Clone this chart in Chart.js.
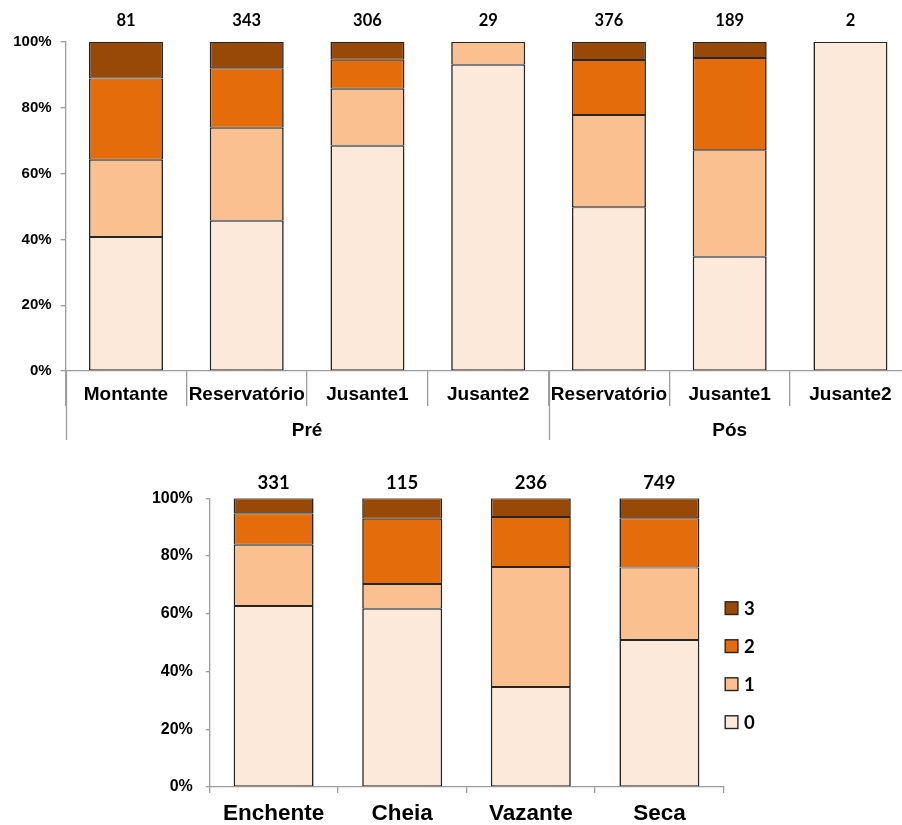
<!DOCTYPE html>
<html>
<head>
<meta charset="utf-8">
<script src="https://cdn.jsdelivr.net/npm/chart.js"></script>
<style>
  html, body { margin: 0; padding: 0; background: #fff; overflow: hidden; }
  #siteChart { position: absolute; left: 0; top: 0; }
  #seasonChart { position: absolute; left: 0; top: 450px; }
</style>
</head>
<body>
<canvas id="siteChart" width="920" height="450"></canvas>
<canvas id="seasonChart" width="902" height="375"></canvas>
<script>
// top chart: sites before / after the dam
const siteLabels = ['Montante', 'Reservatório', 'Jusante1', 'Jusante2', 'Reservatório', 'Jusante1', 'Jusante2'];
const periodLabels = ['Pré', 'Pós'];
const periodSizes = [4, 3];
const siteCounts = [81, 343, 306, 29, 376, 189, 2];
const siteScore0 = [40.7, 45.7, 68.5, 93.1, 49.8, 34.7, 100];
const siteScore1 = [23.5, 28.2, 17.3, 6.9, 28.0, 32.4, 0];
const siteScore2 = [24.7, 18.1, 8.8, 0, 16.7, 28.0, 0];
const siteScore3 = [11.1, 8.0, 5.4, 0, 5.5, 4.9, 0];

// bottom chart: hydrological seasons
const seasonLabels = ['Enchente', 'Cheia', 'Vazante', 'Seca'];
const seasonCounts = [331, 115, 236, 749];
const seasonScore0 = [62.7, 61.7, 34.6, 50.9];
const seasonScore1 = [21.2, 8.6, 41.6, 25.1];
const seasonScore2 = [10.9, 22.6, 17.3, 17.1];
const seasonScore3 = [5.2, 7.1, 6.5, 6.9];

const scoreLabels = ['0', '1', '2', '3'];
const yTicks = [0, 20, 40, 60, 80, 100];

const scoreColors = ['#FDE9D9', '#FAC090', '#E46C0A', '#984807'];
const edgeColor = '#262626';
const axisColor = '#9c9c9c';

function makeDatasets(series, barPct) {
    return series.map((values, i) => ({
        label: scoreLabels[i],
        data: values,
        backgroundColor: scoreColors[i],
        borderColor: edgeColor,
        borderWidth: { top: 1, bottom: 1, left: 1.6, right: 1.6 },
        borderSkipped: false,
        barPercentage: barPct,
        categoryPercentage: 1
    }));
}

// counts above bars, group row under the axis, legend on the right
const annotatePlugin = {
    id: 'annotate',
    afterDraw(chart, args, opts) {
        const ctx = chart.ctx;
        const x = chart.scales.x;
        const area = chart.chartArea;
        const half = (x.right - x.left) / chart.data.labels.length / 2;
        ctx.save();
        ctx.fillStyle = '#000';
        ctx.textAlign = 'center';
        ctx.textBaseline = 'alphabetic';
        ctx.font = opts.countFont;
        opts.counts.forEach((n, i) => ctx.fillText(String(n), x.getPixelForValue(i), area.top - opts.countGap));

        if (opts.groups) {
            ctx.strokeStyle = axisColor;
            ctx.lineWidth = 1.3;
            ctx.font = opts.groupFont;
            let start = 0;
            const edges = [x.getPixelForValue(0) - half];
            opts.groups.forEach((name, g) => {
                const end = start + opts.groupSizes[g] - 1;
                edges.push(x.getPixelForValue(end) + half);
                const cx = (x.getPixelForValue(start) + x.getPixelForValue(end)) / 2;
                ctx.fillText(name, cx, area.bottom + 64.7);
                start = end + 1;
            });
            edges.forEach(px => {
                ctx.beginPath();
                ctx.moveTo(Math.round(px) + 0.5, area.bottom);
                ctx.lineTo(Math.round(px) + 0.5, area.bottom + 69);
                ctx.stroke();
            });
        }

        if (opts.legend) {
            const sets = chart.data.datasets.slice().reverse();
            const box = 12.7;
            const step = 38;
            const mid = (area.top + area.bottom) / 2 + 22.5;
            const firstY = mid - step * (sets.length - 1) / 2;
            ctx.font = opts.legendFont;
            ctx.textAlign = 'left';
            sets.forEach((ds, i) => {
                const cy = firstY + i * step;
                const bx = area.right + 1.5;
                ctx.fillStyle = ds.backgroundColor;
                ctx.fillRect(bx, cy - box / 2, box, box);
                ctx.strokeStyle = ds.borderColor;
                ctx.lineWidth = 1.4;
                ctx.strokeRect(bx, cy - box / 2, box, box);
                ctx.fillStyle = '#000';
                ctx.fillText(ds.label, bx + box + 6, cy + 6.7);
            });
        }
        ctx.restore();
    }
};

function createChartConfig(labels, datasets, o) {
    return {
        type: 'bar',
        data: { labels: labels, datasets: datasets },
        plugins: [annotatePlugin],
        options: {
            responsive: false,
            animation: false,
            layout: { padding: o.padding },
            plugins: {
                legend: { display: false },
                tooltip: { enabled: false },
                annotate: o.annotate
            },
            scales: {
                x: {
                    stacked: true,
                    offset: true,
                    grid: { offset: true, drawOnChartArea: false, tickLength: o.xTickLength, color: axisColor, lineWidth: 1.3 },
                    border: { color: axisColor, width: 1.3 },
                    ticks: {
                        font: { family: 'Liberation Sans', weight: 'bold', size: o.xFontSize },
                        color: '#000',
                        padding: o.xPadding,
                        maxRotation: 0,
                        autoSkip: false
                    },
                    afterFit: s => { s.height = o.xHeight; }
                },
                y: {
                    stacked: true,
                    min: 0,
                    max: 100,
                    afterBuildTicks: s => { s.ticks = yTicks.map(v => ({ value: v })); },
                    grid: { drawOnChartArea: false, tickLength: o.yTickLength, color: axisColor, lineWidth: 1.3 },
                    border: { color: axisColor, width: 1.3 },
                    ticks: {
                        callback: v => v + '%',
                        font: { family: 'Liberation Sans', weight: 'bold', size: o.yFontSize },
                        color: '#000',
                        padding: o.yPadding
                    },
                    afterFit: s => { s.width = o.yWidth; }
                }
            }
        }
    };
}

new Chart(document.getElementById('siteChart'), createChartConfig(
    siteLabels,
    makeDatasets([siteScore0, siteScore1, siteScore2, siteScore3], 0.613),
    {
        padding: { top: 42, right: 9.2, left: 0, bottom: 0 },
        xTickLength: 35, xFontSize: 19, xPadding: -23, xHeight: 79,
        yTickLength: 5, yFontSize: 15, yPadding: 9, yWidth: 65.6,
        annotate: {
            counts: siteCounts, countFont: 'bold 16.5px Lato', countGap: 16,
            groups: periodLabels, groupSizes: periodSizes, groupFont: 'bold 19px "Liberation Sans"'
        }
    }
));

new Chart(document.getElementById('seasonChart'), createChartConfig(
    seasonLabels,
    makeDatasets([seasonScore0, seasonScore1, seasonScore2, seasonScore3], 0.622),
    {
        padding: { top: 48.3, right: 178.3, left: 0, bottom: 0 },
        xTickLength: 6, xFontSize: 22.5, xPadding: 7.4, xHeight: 38,
        yTickLength: 3.5, yFontSize: 16, yPadding: 13, yWidth: 209.3,
        annotate: {
            counts: seasonCounts, countFont: 'bold 18.5px Lato', countGap: 9,
            legend: true, legendFont: 'bold 18.5px Lato'
        }
    }
));
</script>
</body>
</html>
